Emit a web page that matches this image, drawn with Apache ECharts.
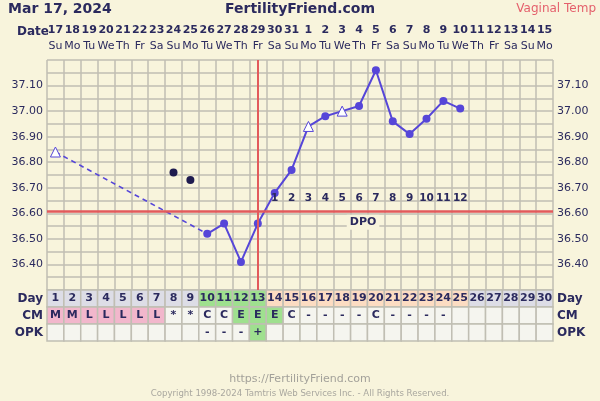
<!DOCTYPE html>
<html>
<head>
<meta charset="utf-8">
<script src="https://cdn.jsdelivr.net/npm/echarts@6/dist/echarts.min.js"></script>
<style>
html,body{margin:0;padding:0;background:#f8f4dc;}
#c{width:600px;height:401px;}
</style>
</head>
<body>
<div id="c"></div>
<script>
// ---- data ----
const dates = ['17','18','19','20','21','22','23','24','25','26','27','28','29','30','31','1','2','3','4','5','6','7','8','9','10','11','12','13','14','15'];
const weekdays = ['Su','Mo','Tu','We','Th','Fr','Sa','Su','Mo','Tu','We','Th','Fr','Sa','Su','Mo','Tu','We','Th','Fr','Sa','Su','Mo','Tu','We','Th','Fr','Sa','Su','Mo'];
const cycleDays = ['1','2','3','4','5','6','7','8','9','10','11','12','13','14','15','16','17','18','19','20','21','22','23','24','25','26','27','28','29','30'];
const temps = [36.84,null,null,null,null,null,null,null,null,36.52,36.56,36.41,36.56,36.68,36.77,36.94,36.98,37.00,37.02,37.16,36.96,36.91,36.97,37.04,37.01,null,null,null,null,null];
const hollowDays = [1,16,18];
const discarded = [null,null,null,null,null,null,null,36.76,36.73,null,null,null,null,null,null,null,null,null,null,null,null,null,null,null,null,null,null,null,null,null];
const dpo = ['','','','','','','','','','','','','','1','2','3','4','5','6','7','8','9','10','11','12','','','','',''];
const dpoLevel = 36.66;
const dpoTitleDay = 19;
const dpoTitleLevel = 36.565;
const coverline = 36.61;
const ovulationDay = 13;
const fertileDays = [10,11,12,13];
const cm = ['M','M','L','L','L','L','L','*','*','C','C','E','E','E','C','-','-','-','-','C','-','-','-','-','','','','','',''];
const opk = ['','','','','','','','','','-','-','-','+','','','','','','','','','','','','','','','','',''];
const yMin = 36.30, yMax = 37.20, yStep = 0.05;
const rowNames = ['Day','CM','OPK'];

// ---- styles ----
const NAVY = '#2b2a5e';
const LINE = '#5646d8';
const GRID = '#c0beb3';
const BG = '#f8f4dc';
const FONT = 'DejaVu Sans';

const cells = [];
for (let i = 0; i < 30; i++) {
  const d = i + 1;
  let dayFill = '#dddde6';
  if (fertileDays.includes(d)) dayFill = '#9fe08f';
  else if (dpo[i] !== '') dayFill = '#fcdcc2';
  cells.push([i, 0, cycleDays[i], dayFill]);
  let cmFill = '#f5f5ef';
  if (cm[i] === 'M' || cm[i] === 'L') cmFill = '#f2b7cc';
  else if (cm[i] === 'E') cmFill = '#9fe08f';
  cells.push([i, 1, cm[i], cmFill]);
  let opkFill = opk[i] === '+' ? '#9fe08f' : '#f5f5ef';
  cells.push([i, 2, opk[i], opkFill]);
}

const hollowStyle = {color: '#ffffff', borderColor: LINE, borderWidth: 1};
const dashedData = temps.map((v, i) => {
  if (i > 9 || v == null) return null;
  if (i === 9) return {value: v, symbol: 'none'};
  return {value: v, symbol: 'triangle', symbolSize: 10, itemStyle: hollowStyle};
});
const solidData = temps.map((v, i) => {
  if (i < 9 || v == null) return null;
  if (hollowDays.includes(i + 1)) return {value: v, symbol: 'triangle', symbolSize: 10, itemStyle: hollowStyle};
  return {value: v, symbol: 'circle', symbolSize: 8};
});
const dpoData = dpo.map((t, i) => t === '' ? null : {value: [i, dpoLevel], name: t});

const yLabel = v => (Math.round(v * 100) % 10 === 0 && v > yMin + 0.01 && v < yMax - 0.01) ? v.toFixed(2) : '';

const chart = echarts.init(document.getElementById('c'));
chart.setOption({
  backgroundColor: BG,
  animation: false,
  textStyle: {fontFamily: FONT},
  graphic: [
    {type: 'text', left: 8, top: 2, style: {text: 'Mar 17, 2024', font: 'bold 14px DejaVu Sans', fill: NAVY}},
    {type: 'text', left: 'center', top: 2, style: {text: 'FertilityFriend.com', font: 'bold 14px DejaVu Sans', fill: NAVY}},
    {type: 'text', right: 4, top: 3, style: {text: 'Vaginal Temp', font: '12px DejaVu Sans', fill: '#e4606c'}},
    {type: 'text', left: 17, top: 26, style: {text: 'Date', font: 'bold 12px DejaVu Sans', fill: NAVY}},
    {type: 'text', left: 'center', top: 374, style: {text: 'https://FertilityFriend.com', font: '11px DejaVu Sans', fill: '#a3a19a'}},
    {type: 'text', left: 'center', top: 389, style: {text: 'Copyright 1998-2024 Tamtris Web Services Inc. - All Rights Reserved.', font: '8.6px DejaVu Sans', fill: '#a9a79f'}}
  ],
  grid: [
    {left: 47, right: 47, top: 60, height: 230},
    {left: 47, right: 47, top: 290, height: 51}
  ],
  xAxis: [
    {type: 'category', gridIndex: 0, position: 'top', data: dates, boundaryGap: true,
     axisLine: {show: false}, axisTick: {show: false},
     axisLabel: {interval: 0, margin: 6, formatter: (v, i) => '{d|' + v + '}\n{w|' + weekdays[i] + '}',
       rich: {d: {fontFamily: FONT, fontSize: 11, fontWeight: 'bold', color: NAVY, lineHeight: 16, align: 'center'},
              w: {fontFamily: FONT, fontSize: 11, fontWeight: 'normal', color: NAVY, lineHeight: 16, align: 'center'}}},
     splitLine: {show: true, interval: 0, lineStyle: {color: GRID, width: 1.5}}},
    {type: 'category', gridIndex: 1, data: cycleDays, boundaryGap: true,
     axisLine: {show: false}, axisTick: {show: false}, axisLabel: {show: false},
     splitLine: {show: false}}
  ],
  yAxis: [
    {type: 'value', gridIndex: 0, min: yMin, max: yMax, interval: yStep, position: 'left',
     axisLine: {show: false}, axisTick: {show: false},
     axisLabel: {formatter: yLabel, margin: 4, color: NAVY, fontSize: 11},
     splitLine: {show: true, lineStyle: {color: GRID, width: 1.5}}},
    {type: 'value', gridIndex: 0, min: yMin, max: yMax, interval: yStep, position: 'right',
     axisLine: {show: false}, axisTick: {show: false},
     axisLabel: {formatter: yLabel, margin: 4, color: NAVY, fontSize: 11},
     splitLine: {show: false}},
    {type: 'category', gridIndex: 1, data: rowNames, inverse: true, position: 'left',
     axisLine: {show: false}, axisTick: {show: false},
     axisLabel: {margin: 4, color: NAVY, fontSize: 12, fontWeight: 'bold'}},
    {type: 'category', gridIndex: 1, data: rowNames, inverse: true, position: 'right',
     axisLine: {show: false}, axisTick: {show: false},
     axisLabel: {margin: 4, color: NAVY, fontSize: 12, fontWeight: 'bold'}}
  ],
  series: [
    {type: 'line', xAxisIndex: 0, yAxisIndex: 0, data: dashedData, connectNulls: true,
     lineStyle: {color: LINE, width: 1.6, type: [5, 4]}, itemStyle: {color: LINE}, z: 3},
    {type: 'line', xAxisIndex: 0, yAxisIndex: 0, data: solidData, connectNulls: false,
     lineStyle: {color: LINE, width: 2}, itemStyle: {color: LINE}, z: 4,
     markLine: {silent: true, symbol: 'none', label: {show: false},
       data: [
         {yAxis: coverline, lineStyle: {color: '#e25a5c', width: 2.5, type: 'solid'}},
         {xAxis: ovulationDay - 1, lineStyle: {color: '#e25a5c', width: 2, type: 'solid'}}
       ]}},
    {type: 'scatter', xAxisIndex: 0, yAxisIndex: 0, data: discarded, symbolSize: 8,
     itemStyle: {color: '#1e1b4f', opacity: 1}, z: 4},
    {type: 'scatter', xAxisIndex: 0, yAxisIndex: 0, data: dpoData, symbolSize: 1,
     itemStyle: {color: 'rgba(0,0,0,0)', opacity: 1}, z: 5,
     label: {show: true, position: 'inside', formatter: p => p.name, color: NAVY, fontSize: 10.5, fontWeight: 'bold', textBorderWidth: 0, opacity: 1}},
    {type: 'scatter', xAxisIndex: 0, yAxisIndex: 0, data: [{value: [dpoTitleDay - 1, dpoTitleLevel], name: 'DPO'}], symbolSize: 1,
     itemStyle: {color: 'rgba(0,0,0,0)', opacity: 1}, z: 5,
     label: {show: true, position: 'inside', offset: [4, 0], formatter: p => p.name, color: NAVY, fontSize: 11, fontWeight: 'bold',
       textBorderWidth: 0, opacity: 1, backgroundColor: BG, padding: [2, 3]}},
    {type: 'custom', xAxisIndex: 1, yAxisIndex: 2, data: cells, encode: {x: 0, y: 1},
     renderItem: (params, api) => {
       const cell = cells[params.dataIndex];
       const c = api.coord([api.value(0), api.value(1)]);
       const s = api.size([1, 1]);
       return {type: 'group', children: [
         {type: 'rect', shape: {x: c[0] - s[0] / 2, y: c[1] - s[1] / 2, width: s[0], height: s[1]},
          style: {fill: cell[3], stroke: GRID, lineWidth: 1.5}},
         {type: 'text', style: {text: cell[2], x: c[0], y: c[1], align: 'center', verticalAlign: 'middle',
          font: 'bold 11px DejaVu Sans', fill: NAVY}}
       ]};
     }}
  ]
});
</script>
</body>
</html>
